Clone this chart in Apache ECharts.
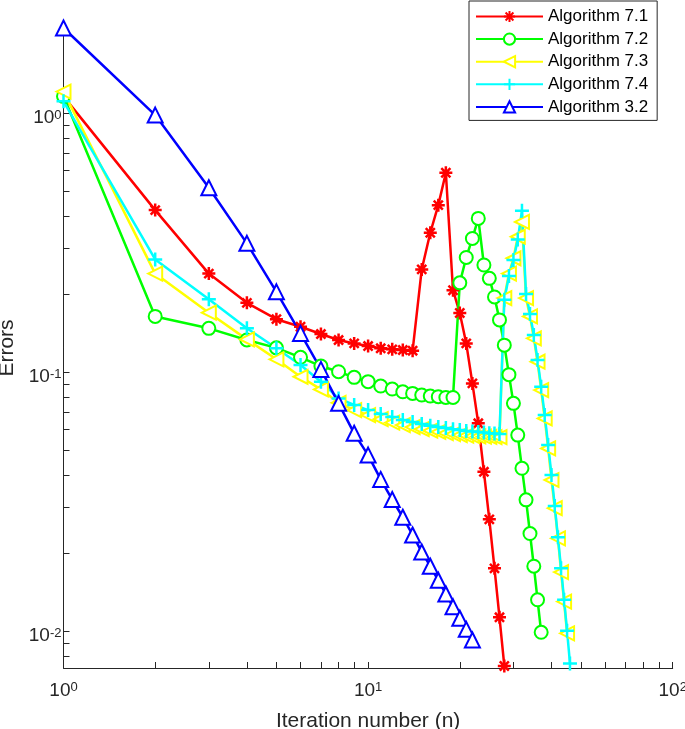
<!DOCTYPE html>
<html>
<head>
<meta charset="utf-8">
<title>Errors vs iteration number</title>
<script src="https://cdn.jsdelivr.net/npm/echarts@6/dist/echarts.min.js"></script>
<style>
  html, body { margin: 0; padding: 0; background: #fff; }
  #chart { width: 685px; height: 729px; }
</style>
</head>
<body>
<div id="chart"></div>
<script>
// errors, iteration n = index + 1
const alg71 = [1.16, 0.422, 0.240, 0.185, 0.160, 0.1496, 0.1402, 0.1329, 0.129, 0.126,
  0.1235, 0.1224, 0.1216, 0.1209, 0.249, 0.345, 0.441, 0.588, 0.207, 0.169,
  0.129, 0.0904, 0.0634, 0.0412, 0.0270, 0.01746, 0.0113, 0.00733]
const alg72 = [1.16, 0.164, 0.1475, 0.133, 0.124, 0.114, 0.1055, 0.1003, 0.0954, 0.0918,
  0.0883, 0.0860, 0.0839, 0.0827, 0.0815, 0.0808, 0.0803, 0.0798, 0.0798, 0.221,
  0.277, 0.328, 0.392, 0.259, 0.230, 0.195, 0.159, 0.127, 0.0977, 0.0757,
  0.0571, 0.0425, 0.0321, 0.0238, 0.0178, 0.0132, 0.00989]
const alg73 = [1.21, 0.240, 0.1695, 0.1337, 0.112, 0.0959, 0.0857, 0.0761, 0.0713, 0.0682,
  0.0658, 0.0638, 0.0624, 0.0613, 0.0602, 0.0594, 0.0587, 0.0581, 0.0576, 0.0571,
  0.0568, 0.0566, 0.0564, 0.0563, 0.0562, 0.0561, 0.0561, 0.193, 0.240, 0.275,
  0.333, 0.380, 0.193, 0.164, 0.135, 0.1096, 0.0852, 0.0662, 0.0507, 0.0383,
  0.0298, 0.0228, 0.0169, 0.0130, 0.0098]
const alg74 = [1.11, 0.272, 0.191, 0.1475, 0.1235, 0.1064, 0.0918, 0.0791, 0.0746, 0.0713,
  0.0688, 0.0670, 0.0653, 0.0641, 0.0630, 0.0621, 0.0613, 0.0608, 0.0602, 0.0597,
  0.0592, 0.0589, 0.0587, 0.0584, 0.0581, 0.0579, 0.0576, 0.190, 0.235, 0.271,
  0.325, 0.420, 0.200, 0.1675, 0.139, 0.1112, 0.0877, 0.0682, 0.0523, 0.0400,
  0.0304, 0.0230, 0.01746, 0.0132, 0.01002, 0.0075]
const alg32 = [2.13, 0.982, 0.515, 0.314, 0.204, 0.141, 0.1024, 0.0757, 0.0580, 0.0478,
  0.0385, 0.0322, 0.0275, 0.0235, 0.0202, 0.0178, 0.0157, 0.0139, 0.0124, 0.0112,
  0.01015, 0.00923]

const seriesNames = ['Algorithm 7.1', 'Algorithm 7.2', 'Algorithm 7.3', 'Algorithm 7.4', 'Algorithm 3.2']
const xLabelValues = [1, 10, 100]
const yLabelValues = [0.01, 0.1, 1]
const xRange = [1, 100]
const yRange = [0.0072, 2.13]

const FONT = '"Liberation Sans", Arial, Helvetica, sans-serif'
const AXIS_COLOR = '#262626'

// matlab style marker shapes
const ASTERISK = 'path://M0,5L10,5M5,0L5,10M1.5,1.5L8.5,8.5M8.5,1.5L1.5,8.5'
const PLUS = 'path://M0,5L10,5M5,0L5,10'

function toPoints (arr) {
  return arr.map((v, i) => [i + 1, v])
}

// 1..9 x 10^k for the log ticks
function logTicks (lo, hi) {
  const out = []
  for (let e = Math.floor(Math.log10(lo)); e <= Math.ceil(Math.log10(hi)); e++) {
    for (let m = 1; m <= 9; m++) {
      const v = +(m * Math.pow(10, e)).toPrecision(6)
      if (v >= lo && v <= hi) out.push(v)
    }
  }
  return out
}

function powerLabel (v) {
  return '{b|10}{s|' + Math.round(Math.log10(v)) + '}'
}

const labelRich = {
  b: { fontSize: 19, fontFamily: FONT, color: AXIS_COLOR, lineHeight: 19, verticalAlign: 'bottom' },
  s: { fontSize: 13, fontFamily: FONT, color: AXIS_COLOR, lineHeight: 13, verticalAlign: 'top', padding: [0, 0, 12, 0] }
}

function makeSeries (name, data, color, symbol, size, extra) {
  return Object.assign({
    name: name,
    type: 'line',
    data: toPoints(data),
    symbol: symbol,
    symbolSize: size,
    showAllSymbol: true,
    clip: false,
    color: color,
    lineStyle: { color: color, width: 2.5 },
    itemStyle: { color: color, borderColor: color, borderWidth: 2.5 }
  }, extra || {})
}

const chart = echarts.init(document.getElementById('chart'), null, { renderer: 'canvas' })
chart.setOption({
  animation: false,
  backgroundColor: '#fff',
  grid: { left: 63.5, right: 12.3, top: 28, bottom: 61, outerBoundsMode: 'none', containLabel: false },
  legend: {
    orient: 'vertical',
    left: 469,
    top: 1,
    padding: [7, 9, 5, 6],
    itemWidth: 67,
    itemHeight: 14,
    itemGap: 5.6,
    borderColor: AXIS_COLOR,
    borderWidth: 1,
    backgroundColor: '#fff',
    textStyle: { fontSize: 17, lineHeight: 17, fontFamily: FONT, color: '#000' },
    data: seriesNames
  },
  xAxis: {
    type: 'log',
    logBase: 10,
    min: xRange[0],
    max: xRange[1],
    name: 'Iteration number (n)',
    nameLocation: 'middle',
    nameGap: 36,
    nameTextStyle: { fontSize: 21, fontFamily: FONT, color: AXIS_COLOR },
    axisLine: { show: true, lineStyle: { color: AXIS_COLOR, width: 1 } },
    axisTick: { show: true, inside: true, length: 6, customValues: logTicks(xRange[0], xRange[1]), lineStyle: { color: AXIS_COLOR } },
    axisLabel: { customValues: xLabelValues, formatter: powerLabel, margin: 13, rich: labelRich },
    splitLine: { show: false }
  },
  yAxis: {
    type: 'log',
    logBase: 10,
    min: yRange[0],
    max: yRange[1],
    name: 'Errors',
    nameLocation: 'middle',
    nameGap: 45,
    nameTextStyle: { fontSize: 21, fontFamily: FONT, color: AXIS_COLOR },
    axisLine: { show: true, lineStyle: { color: AXIS_COLOR, width: 1 } },
    axisTick: { show: true, inside: true, length: 6, customValues: logTicks(yRange[0], yRange[1]), lineStyle: { color: AXIS_COLOR } },
    axisLabel: { customValues: yLabelValues, formatter: powerLabel, margin: 2, padding: [10, 0, 0, 0], rich: labelRich },
    splitLine: { show: false }
  },
  series: [
    makeSeries(seriesNames[0], alg71, '#ff0000', ASTERISK, 13),
    makeSeries(seriesNames[1], alg72, '#00ff00', 'emptyCircle', 13),
    makeSeries(seriesNames[2], alg73, '#ffff00', 'emptyTriangle', 14, { symbolRotate: 90 }),
    makeSeries(seriesNames[3], alg74, '#00ffff', PLUS, 14),
    makeSeries(seriesNames[4], alg32, '#0000ff', 'emptyTriangle', 15)
  ]
})
</script>
</body>
</html>
